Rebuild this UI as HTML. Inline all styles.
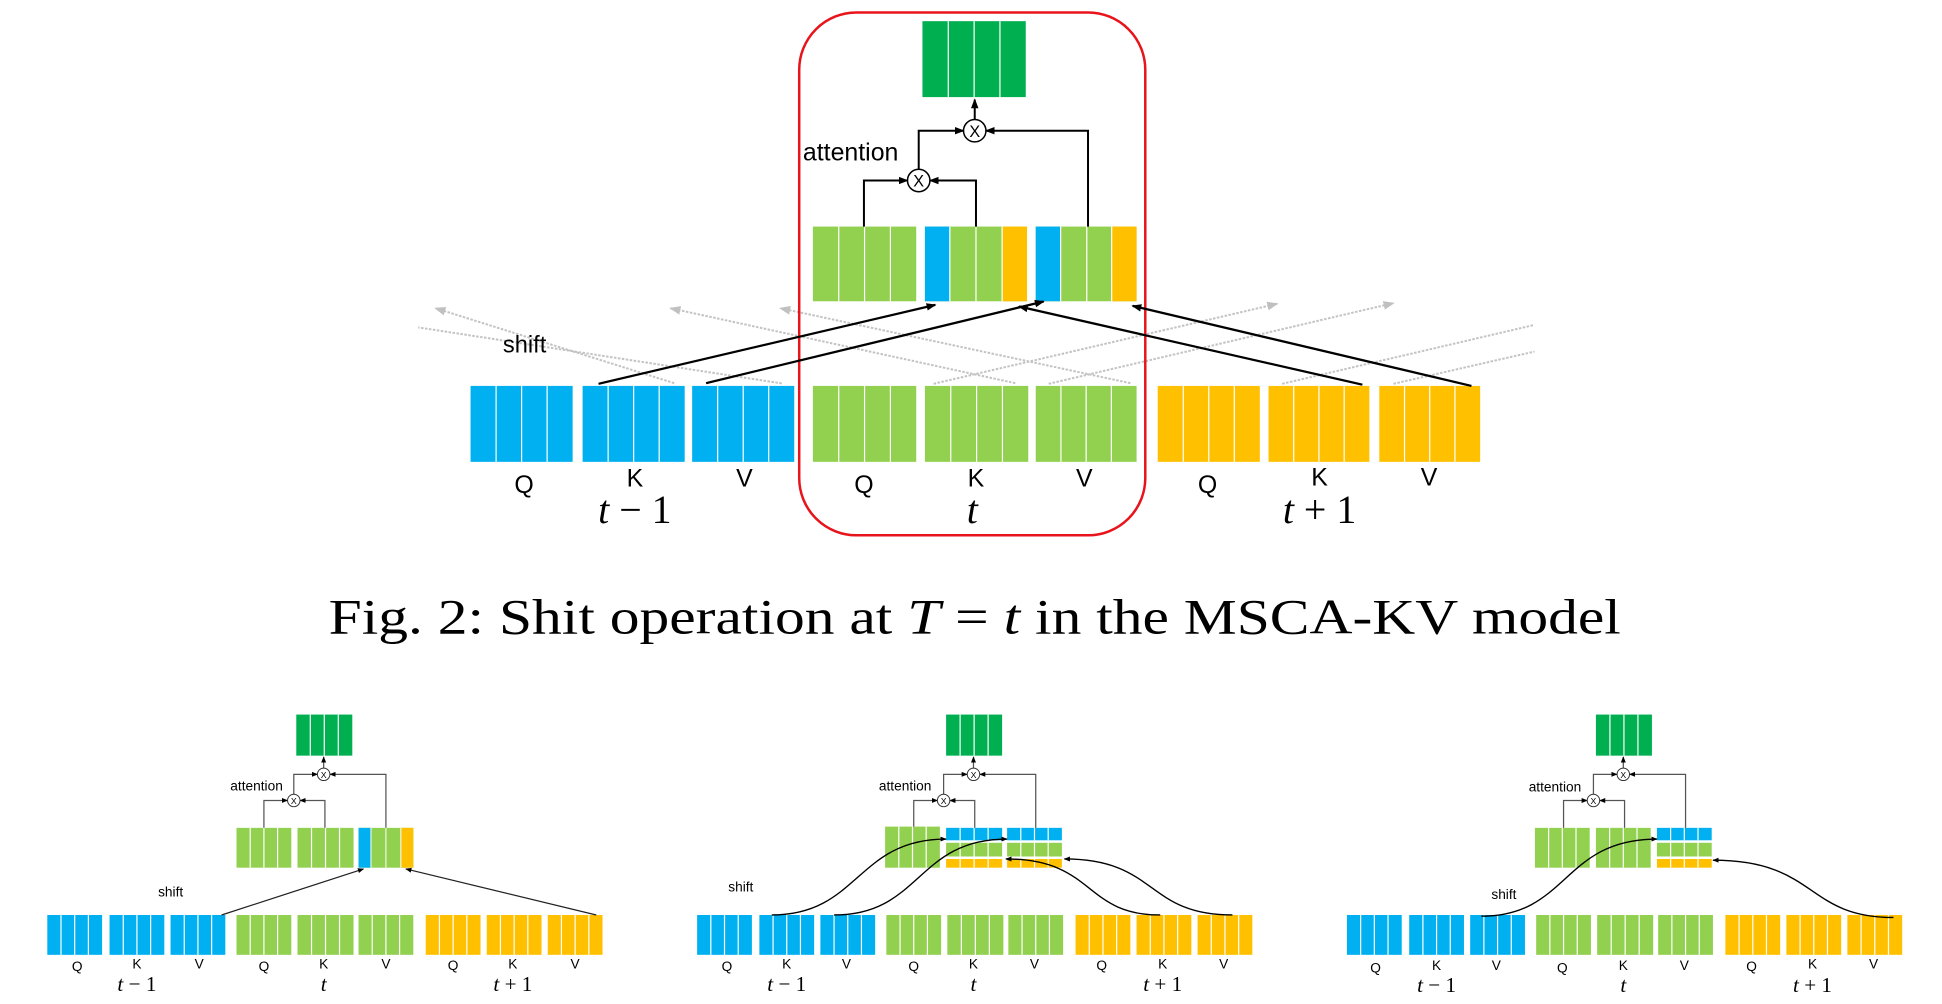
<!DOCTYPE html>
<html><head><meta charset="utf-8"><style>html,body{margin:0;padding:0;background:#fff}svg{display:block}</style></head>
<body>
<svg xmlns="http://www.w3.org/2000/svg" width="1942" height="1004" viewBox="0 0 1560 806.5" preserveAspectRatio="none" font-family="'Liberation Sans', sans-serif">
<defs>
<g id="b"><rect width="100" height="100"/><path d="M25 0V100M50 0V100M75 0V100" stroke="#fff" stroke-width="1.2" vector-effect="non-scaling-stroke"/></g>
<marker id="ak" markerWidth="8" markerHeight="8" refX="7" refY="4" orient="auto" markerUnits="userSpaceOnUse"><path d="M0,1 L8,4 L0,7z" fill="#000"/></marker>
<marker id="as" markerWidth="5" markerHeight="5" refX="4.5" refY="2.5" orient="auto" markerUnits="userSpaceOnUse"><path d="M0,0.5 L5,2.5 L0,4.5z" fill="#000"/></marker>
<marker id="ag" markerWidth="9" markerHeight="9" refX="8" refY="4.5" orient="auto" markerUnits="userSpaceOnUse"><path d="M0,1 L9,4.5 L0,8z" fill="#c0c0c0"/></marker>
<g id="small">
  <use href="#b" fill="#00B050" transform="translate(238,574) scale(0.45,0.33)"/>
  <g fill="none" stroke="#555" stroke-width="1" marker-end="url(#as)">
    <path d="M212,665V643H231"/><path d="M261,665V643H241"/><path d="M236,638V622H255"/><path d="M310,665V622H265"/><path d="M260,617V608"/>
  </g>
  <circle cx="260" cy="622" r="5" fill="#fff" stroke="#333" stroke-width="0.8"/>
  <circle cx="236" cy="643" r="5" fill="#fff" stroke="#333" stroke-width="0.8"/>
  <use href="#b" fill="#00B0F0" transform="translate(38,735) scale(0.44,0.32)"/>
  <use href="#b" fill="#00B0F0" transform="translate(88,735) scale(0.44,0.32)"/>
  <use href="#b" fill="#00B0F0" transform="translate(137,735) scale(0.44,0.32)"/>
  <use href="#b" fill="#92D050" transform="translate(190,735) scale(0.44,0.32)"/>
  <use href="#b" fill="#92D050" transform="translate(239,735) scale(0.45,0.32)"/>
  <use href="#b" fill="#92D050" transform="translate(288,735) scale(0.44,0.32)"/>
  <use href="#b" fill="#FFC000" transform="translate(342,735) scale(0.44,0.32)"/>
  <use href="#b" fill="#FFC000" transform="translate(391,735) scale(0.44,0.32)"/>
  <use href="#b" fill="#FFC000" transform="translate(440,735) scale(0.44,0.32)"/>
</g>
</defs>

<!-- ================= TOP DIAGRAM ================= -->
<g fill="none" stroke="#c3c3c3" stroke-width="1.6" stroke-dasharray="2,1.2">
  <path d="M541.6,307.8L349.8,247.6" marker-end="url(#ag)"/>
  <path d="M628,308L336,263"/>
  <path d="M815.6,307.8L538.6,247.6" marker-end="url(#ag)"/>
  <path d="M908,307.8L626.8,247.6" marker-end="url(#ag)"/>
  <path d="M750,308.3L1026,244" marker-end="url(#ag)"/>
  <path d="M842.4,308.3L1119.4,243.5" marker-end="url(#ag)"/>
  <path d="M1030,308.3L1232.6,261"/>
  <path d="M1119.4,308.3L1232.6,282.4"/>
</g>

<rect x="642" y="10" width="278" height="420" rx="46" ry="46" fill="none" stroke="#e8141b" stroke-width="2"/>

<use href="#b" fill="#00B050" transform="translate(741,17) scale(0.83,0.61)"/>

<use href="#b" fill="#92D050" transform="translate(653,182) scale(0.83,0.6)"/>
<rect x="743" y="182" width="82" height="60" fill="#92D050"/>
<rect x="743" y="182" width="20" height="60" fill="#00B0F0"/>
<rect x="805" y="182" width="20" height="60" fill="#FFC000"/>
<path d="M763 182V242M784 182V242M805 182V242" stroke="#fff" stroke-width="1"/>
<rect x="832" y="182" width="81" height="60" fill="#92D050"/>
<rect x="832" y="182" width="20" height="60" fill="#00B0F0"/>
<rect x="893" y="182" width="20" height="60" fill="#FFC000"/>
<path d="M852 182V242M873 182V242M893 182V242" stroke="#fff" stroke-width="1"/>

<g fill="none" stroke="#000" stroke-width="1.6" marker-end="url(#ak)">
  <path d="M694,182V145H729"/><path d="M784,182V145H747"/><path d="M738,136V105H774"/><path d="M874,182V105H792"/><path d="M783,96V80"/>
</g>
<circle cx="783" cy="105" r="9" fill="#fff" stroke="#000" stroke-width="1.2"/>
<circle cx="738" cy="145" r="9" fill="#fff" stroke="#000" stroke-width="1.2"/>
<text x="783" y="110" font-size="13" text-anchor="middle">X</text>
<text x="738" y="150" font-size="13" text-anchor="middle">X</text>
<text x="645" y="129" font-size="20">attention</text>
<text x="404" y="283" font-size="19">shift</text>

<use href="#b" fill="#00B0F0" transform="translate(378,310) scale(0.82,0.61)"/>
<use href="#b" fill="#00B0F0" transform="translate(468,310) scale(0.82,0.61)"/>
<use href="#b" fill="#00B0F0" transform="translate(556,310) scale(0.82,0.61)"/>
<use href="#b" fill="#92D050" transform="translate(653,310) scale(0.83,0.61)"/>
<use href="#b" fill="#92D050" transform="translate(743,310) scale(0.83,0.61)"/>
<use href="#b" fill="#92D050" transform="translate(832,310) scale(0.81,0.61)"/>
<use href="#b" fill="#FFC000" transform="translate(930,310) scale(0.82,0.61)"/>
<use href="#b" fill="#FFC000" transform="translate(1019,310) scale(0.81,0.61)"/>
<use href="#b" fill="#FFC000" transform="translate(1108,310) scale(0.81,0.61)"/>

<g fill="none" stroke="#000" stroke-width="1.8" marker-end="url(#ak)">
  <path d="M480.8,308.3L751.3,244.9"/>
  <path d="M567.2,307.8L838.3,242.2"/>
  <path d="M1094.4,309L818.6,246.2"/>
  <path d="M1182,310L909.8,245.7"/>
</g>

<g font-size="20" text-anchor="middle">
<text x="421" y="396">Q</text><text x="510" y="391">K</text><text x="598" y="391">V</text>
<text x="694" y="396">Q</text><text x="784" y="391">K</text><text x="871" y="391">V</text>
<text x="970" y="396">Q</text><text x="1060" y="390">K</text><text x="1148" y="390">V</text>
</g>
<g font-family="'Liberation Serif', serif" font-size="32" text-anchor="middle">
<text x="510" y="420"><tspan font-style="italic">t</tspan> − 1</text>
<text x="781" y="420" font-style="italic">t</text>
<text x="1060" y="420"><tspan font-style="italic">t</tspan> + 1</text>
</g>

<text x="783" y="509" font-family="'Liberation Serif', serif" font-size="40" text-anchor="middle" textLength="1038" lengthAdjust="spacingAndGlyphs">Fig. 2: Shit operation at <tspan font-style="italic">T</tspan> = <tspan font-style="italic">t</tspan> in the MSCA-KV model</text>

<!-- ================= SMALL LEFT ================= -->
<use href="#small"/>
<use href="#b" fill="#92D050" transform="translate(190,665) scale(0.44,0.32)"/>
<use href="#b" fill="#92D050" transform="translate(239,665) scale(0.45,0.32)"/>
<rect x="288" y="665" width="44" height="32" fill="#92D050"/>
<rect x="288" y="665" width="10" height="32" fill="#00B0F0"/>
<rect x="322" y="665" width="10" height="32" fill="#FFC000"/>
<path d="M298 665V697M310 665V697M322 665V697" stroke="#fff" stroke-width="0.8"/>
<g fill="none" stroke="#222" stroke-width="1" marker-end="url(#as)">
  <path d="M178,735L292,698"/><path d="M479,735L326,698"/>
</g>

<!-- ================= SMALL MIDDLE ================= -->
<use href="#small" transform="translate(522,0)"/>
<use href="#b" fill="#92D050" transform="translate(711,664) scale(0.44,0.33)"/>
<use href="#b" fill="#00B0F0" transform="translate(760,665) scale(0.45,0.1)"/>
<use href="#b" fill="#92D050" transform="translate(760,677) scale(0.45,0.11)"/>
<use href="#b" fill="#FFC000" transform="translate(760,690) scale(0.45,0.07)"/>
<use href="#b" fill="#00B0F0" transform="translate(809,665) scale(0.44,0.1)"/>
<use href="#b" fill="#92D050" transform="translate(809,677) scale(0.44,0.11)"/>
<use href="#b" fill="#FFC000" transform="translate(809,690) scale(0.44,0.07)"/>
<g fill="none" stroke="#000" stroke-width="1.1" marker-end="url(#as)">
  <path d="M620,735C690,735 688,674 760,674"/>
  <path d="M670,735C740,735 736,674 809,674"/>
  <path d="M932,735C870,735 880,690 808,690"/>
  <path d="M990,735C920,735 930,690 855,690"/>
</g>

<!-- ================= SMALL RIGHT ================= -->
<use href="#small" transform="translate(1044,0)"/>
<use href="#b" fill="#92D050" transform="translate(1233,665) scale(0.44,0.32)"/>
<use href="#b" fill="#92D050" transform="translate(1282,665) scale(0.44,0.32)"/>
<use href="#b" fill="#00B0F0" transform="translate(1331,665) scale(0.44,0.1)"/>
<use href="#b" fill="#92D050" transform="translate(1331,677) scale(0.44,0.11)"/>
<use href="#b" fill="#FFC000" transform="translate(1331,690) scale(0.44,0.07)"/>
<g fill="none" stroke="#000" stroke-width="1.1" marker-end="url(#as)">
  <path d="M1190,736C1260,736 1255,674 1331,674"/>
  <path d="M1521,737C1450,737 1460,691 1376,691"/>
</g>

<!-- small texts -->
<g font-size="7" text-anchor="middle">
<text x="260" y="625">X</text><text x="236" y="646">X</text>
<text x="782" y="625">X</text><text x="758" y="646">X</text>
<text x="1304" y="625">X</text><text x="1280" y="646">X</text>
</g>
<g font-size="11">
<text x="185" y="635">attention</text><text x="706" y="635">attention</text><text x="1228" y="636">attention</text>
<text x="127" y="720">shift</text><text x="585" y="716">shift</text><text x="1198" y="722">shift</text>
</g>
<g font-size="11" text-anchor="middle">
<text x="62" y="780">Q</text><text x="110" y="778">K</text><text x="160" y="778">V</text>
<text x="212" y="780">Q</text><text x="260" y="778">K</text><text x="310" y="778">V</text>
<text x="364" y="779">Q</text><text x="412" y="778">K</text><text x="462" y="778">V</text>
<text x="584" y="780">Q</text><text x="632" y="778">K</text><text x="680" y="778">V</text>
<text x="734" y="780">Q</text><text x="782" y="778">K</text><text x="831" y="778">V</text>
<text x="885" y="779">Q</text><text x="934" y="778">K</text><text x="983" y="778">V</text>
<text x="1105" y="781">Q</text><text x="1154" y="779">K</text><text x="1202" y="779">V</text>
<text x="1255" y="781">Q</text><text x="1304" y="779">K</text><text x="1353" y="779">V</text>
<text x="1407" y="780">Q</text><text x="1456" y="778">K</text><text x="1505" y="778">V</text>
</g>
<g font-family="'Liberation Serif', serif" font-size="17" text-anchor="middle">
<text x="110" y="796"><tspan font-style="italic">t</tspan> − 1</text><text x="260" y="796" font-style="italic">t</text><text x="412" y="796"><tspan font-style="italic">t</tspan> + 1</text>
<text x="632" y="796"><tspan font-style="italic">t</tspan> − 1</text><text x="782" y="796" font-style="italic">t</text><text x="934" y="796"><tspan font-style="italic">t</tspan> + 1</text>
<text x="1154" y="797"><tspan font-style="italic">t</tspan> − 1</text><text x="1304" y="797" font-style="italic">t</text><text x="1456" y="797"><tspan font-style="italic">t</tspan> + 1</text>
</g>
</svg>
</body></html>
